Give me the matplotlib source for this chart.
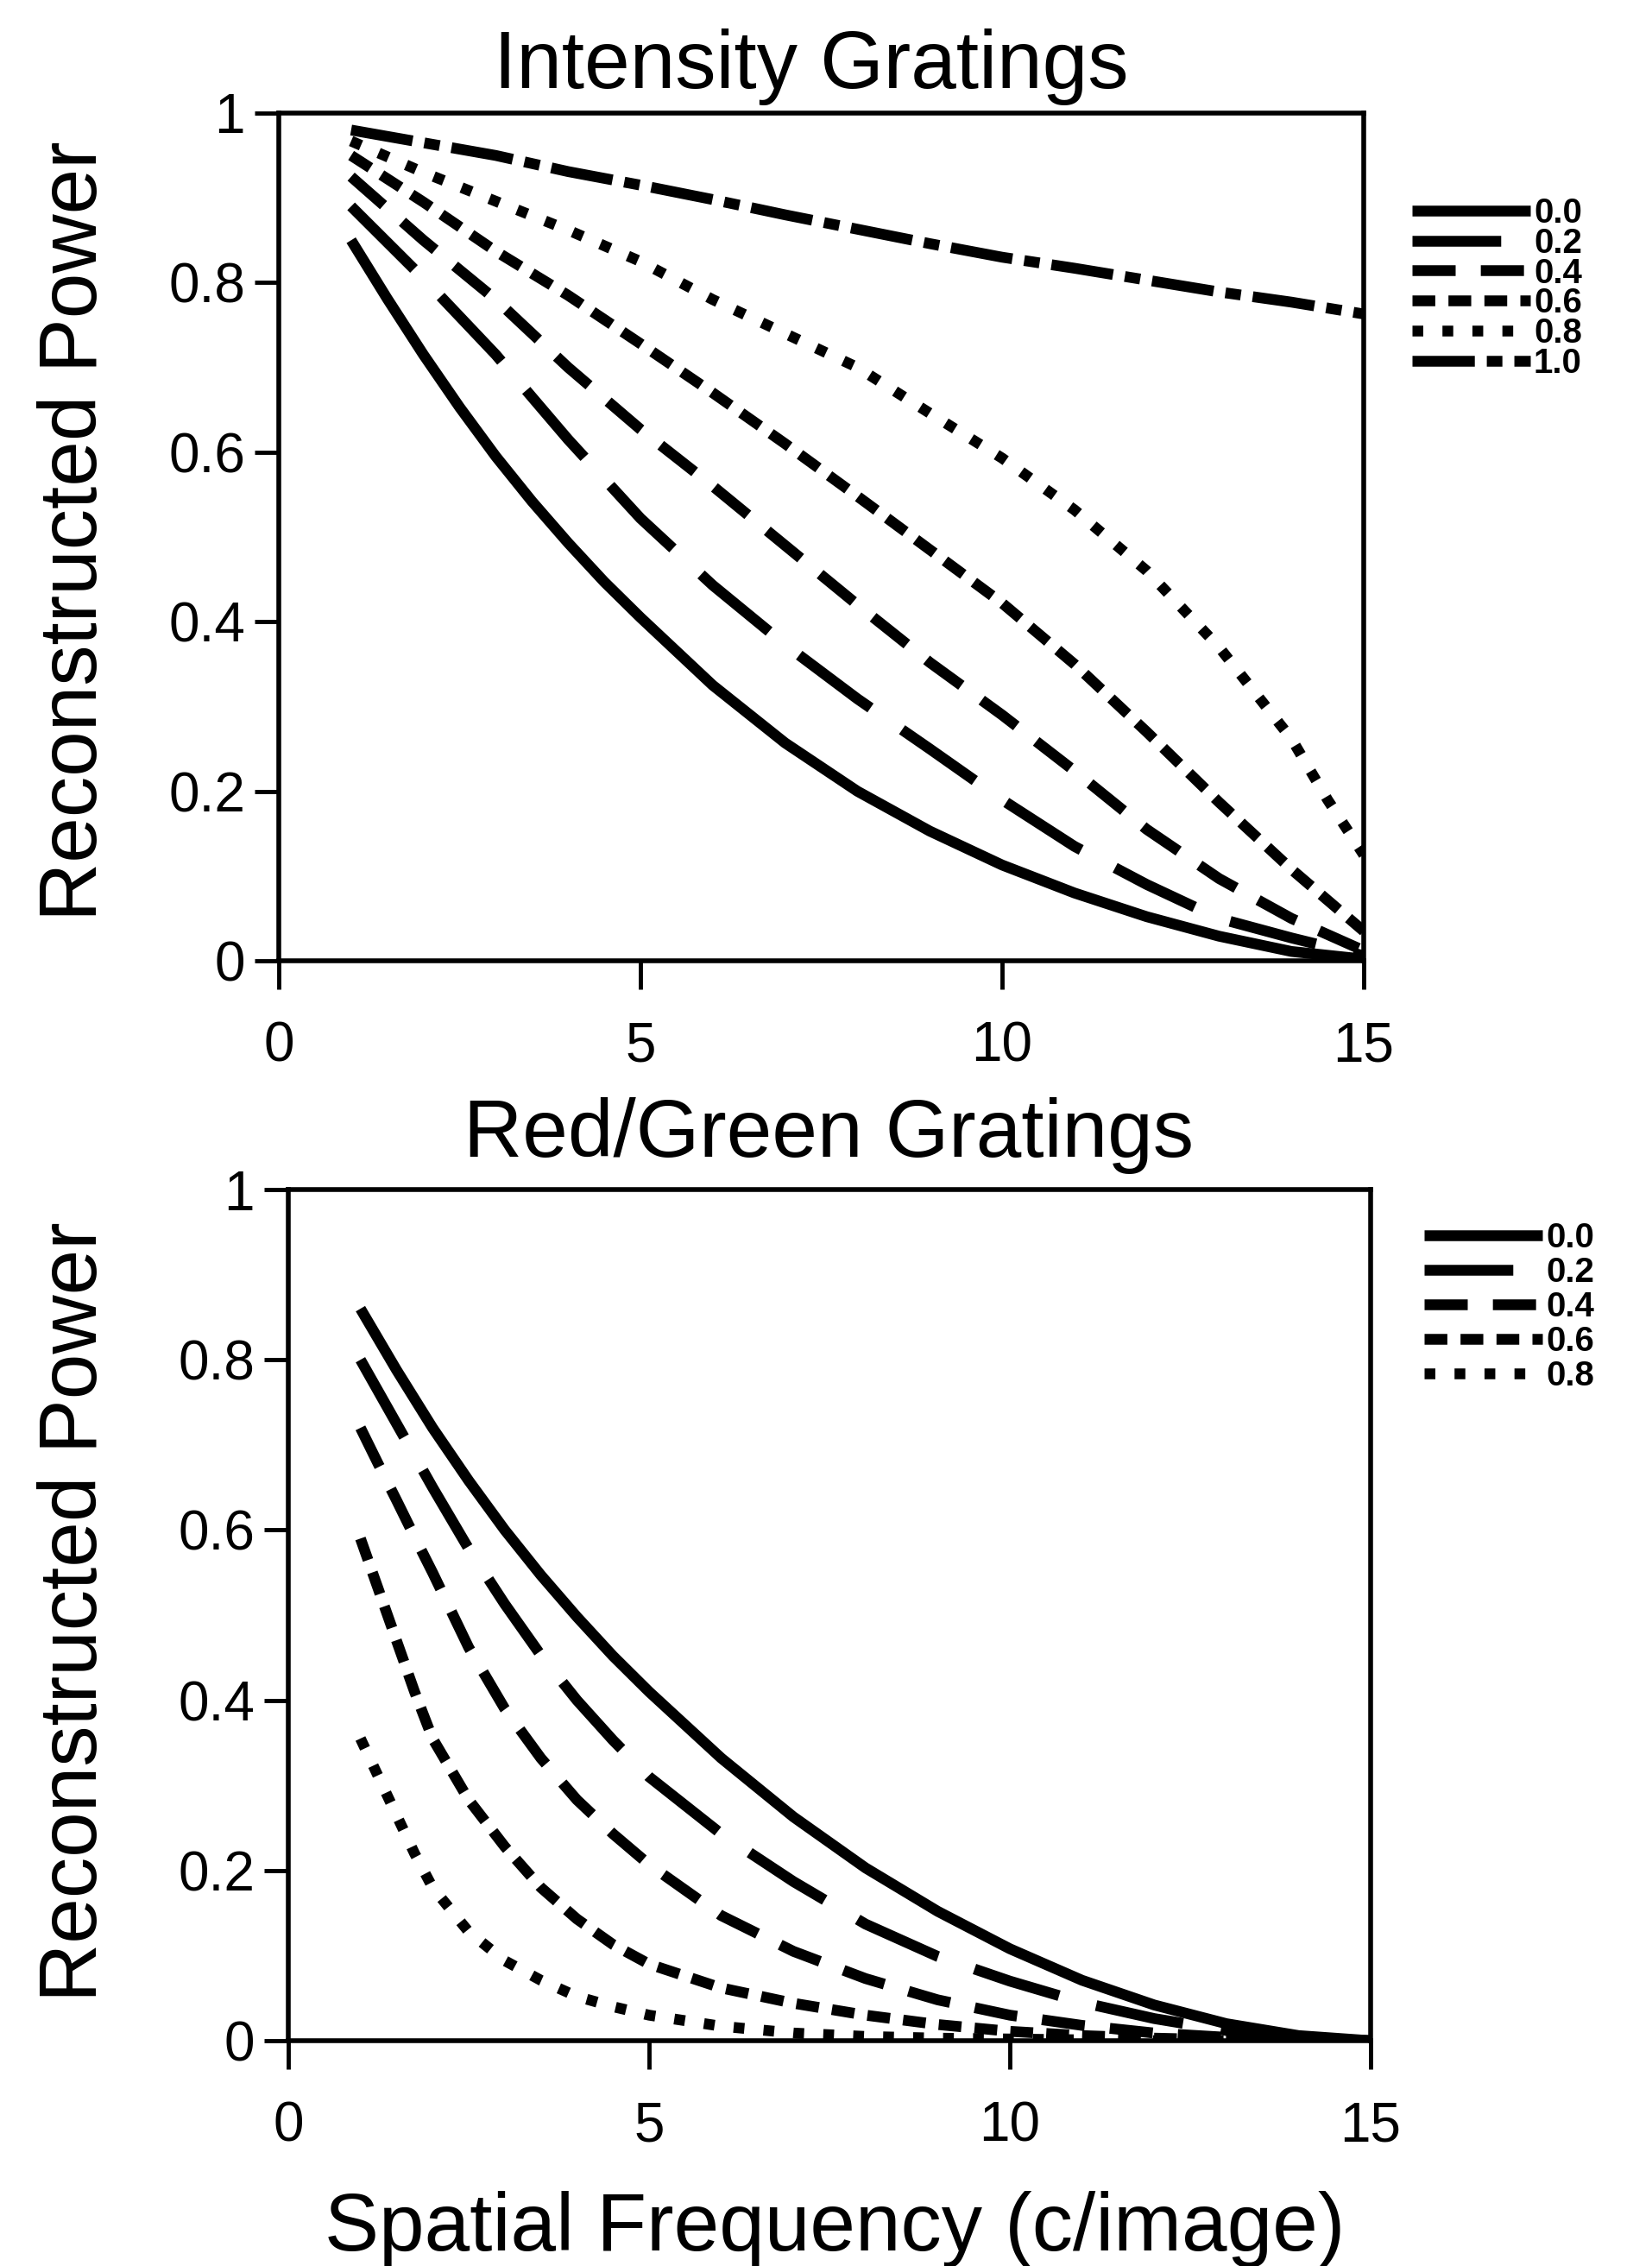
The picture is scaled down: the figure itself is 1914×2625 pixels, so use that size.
import matplotlib
matplotlib.use("Agg")
import matplotlib.pyplot as plt

plt.rcParams['font.family'] = ['Liberation Sans', 'DejaVu Sans']
plt.rcParams['lines.scale_dashes'] = False

# ---------------- data ----------------
levels_top = ["0.0", "0.2", "0.4", "0.6", "0.8", "1.0"]
levels_bottom = ["0.0", "0.2", "0.4", "0.6", "0.8"]

x_int = [1, 2, 3, 4, 5, 6, 7, 8, 9, 10, 11, 12, 13, 14, 15]
x_half = [1, 1.5, 2, 2.5, 3, 3.5, 4, 4.5, 5, 6, 7, 8, 9, 10, 11, 12, 13, 14, 15]

top_00 = [0.85, 0.781, 0.715, 0.653, 0.595, 0.542, 0.493, 0.447, 0.405, 0.325, 0.257, 0.2, 0.153, 0.113, 0.08, 0.052, 0.029, 0.011, 0.002]
top_02 = [0.89, 0.805, 0.715, 0.615, 0.522, 0.443, 0.373, 0.309, 0.25, 0.19, 0.135, 0.09, 0.05, 0.027, 0.006]
top_04 = [0.925, 0.85, 0.78, 0.70, 0.627, 0.56, 0.49, 0.42, 0.352, 0.29, 0.224, 0.155, 0.097, 0.05, 0.012]
top_06 = [0.95, 0.895, 0.837, 0.785, 0.728, 0.67, 0.61, 0.548, 0.485, 0.422, 0.35, 0.27, 0.187, 0.108, 0.035]
x_top_08 = [1, 2, 3, 4, 5, 6, 7, 8, 9, 10, 11, 12, 13, 14, 14.5, 15]
top_08 = [0.967, 0.93, 0.896, 0.862, 0.825, 0.78, 0.74, 0.70, 0.646, 0.593, 0.532, 0.46, 0.37, 0.262, 0.19, 0.125]
top_10 = [0.98, 0.965, 0.95, 0.931, 0.915, 0.898, 0.88, 0.863, 0.846, 0.83, 0.817, 0.803, 0.789, 0.777, 0.763]

bot_00 = [0.86, 0.788, 0.72, 0.658, 0.60, 0.547, 0.498, 0.452, 0.41, 0.332, 0.263, 0.203, 0.152, 0.108, 0.071, 0.042, 0.02, 0.006, 0.0]
x_bot_02 = [1, 1.5, 2, 2.5, 3, 3.5, 4, 4.5, 5, 6, 7, 8, 9, 10, 11, 12, 13, 14, 15]
bot_02 = [0.80, 0.725, 0.65, 0.578, 0.513, 0.453, 0.40, 0.353, 0.31, 0.243, 0.187, 0.137, 0.099, 0.07, 0.045, 0.026, 0.012, 0.003, 0.0]
x_bot_fine = [1, 1.25, 1.5, 1.75, 2, 2.5, 3, 3.5, 4, 4.5, 5, 6, 7, 8, 9, 10, 11, 12, 13, 14, 15]
bot_04 = [0.72, 0.677, 0.635, 0.592, 0.55, 0.462, 0.39, 0.332, 0.283, 0.243, 0.207, 0.147, 0.105, 0.073, 0.048, 0.03, 0.018, 0.009, 0.004, 0.001, 0.0]
bot_06 = [0.59, 0.53, 0.47, 0.41, 0.355, 0.283, 0.228, 0.18, 0.143, 0.113, 0.09, 0.062, 0.044, 0.03, 0.019, 0.011, 0.006, 0.003, 0.001, 0.0, 0.0]
bot_08 = [0.355, 0.31, 0.265, 0.22, 0.18, 0.128, 0.094, 0.071, 0.052, 0.04, 0.03, 0.017, 0.009, 0.005, 0.003, 0.002, 0.001, 0.0, 0.0, 0.0, 0.0]

x_ticks = [0, 5, 10, 15]
x_ticklabels = ["0", "5", "10", "15"]
y_ticks = [0, 0.2, 0.4, 0.6, 0.8, 1.0]
y_ticklabels = ["0", "0.2", "0.4", "0.6", "0.8", "1"]

title_top = "Intensity Gratings"
title_bottom = "Red/Green Gratings"
y_label = "Reconstructed Power"
x_label = "Spatial Frequency (c/image)"

# ---------------- styles ----------------
styles = {
    "0.0": '-',
    "0.2": (0, (74, 32)),
    "0.4": (0, (36, 21)),
    "0.6": (0, (19, 11)),
    "0.8": (0, (9, 16)),
    "1.0": (0, (52, 10, 13, 10)),
}
LW = 9

W, H = 1914, 2625
fig = plt.figure(figsize=(W / 100, H / 100), dpi=100)

def fx(px):
    return px / W

def fy(py):
    return 1 - py / H

ax1 = fig.add_axes([fx(323), fy(1113), fx(1580) - fx(323), fy(131) - fy(1113)])
ax2 = fig.add_axes([fx(334), fy(2364), fx(1588) - fx(334), fy(1378) - fy(2364)])

top_series = [(x_half, top_00), (x_int, top_02), (x_int, top_04), (x_int, top_06), (x_top_08, top_08), (x_int, top_10)]
bot_series = [(x_half, bot_00), (x_bot_02, bot_02), (x_bot_fine, bot_04), (x_bot_fine, bot_06), (x_bot_fine, bot_08)]

def draw(ax, series, labels):
    handles = []
    for (xs, ys), lab in zip(series, labels):
        ln, = ax.plot(xs, ys, color='black', lw=LW, linestyle=styles[lab],
                      dash_capstyle='butt', solid_capstyle='butt',
                      solid_joinstyle='round', dash_joinstyle='round', label=lab)
        handles.append(ln)
    ax.set_xlim(0, 15)
    ax.set_ylim(0, 1)
    ax.set_xticks(x_ticks)
    ax.set_xticklabels(x_ticklabels)
    ax.set_yticks(y_ticks)
    ax.set_yticklabels(y_ticklabels)
    ax.tick_params(axis='x', direction='out', length=24, width=3.5, pad=26, labelsize=46)
    ax.tick_params(axis='y', direction='out', length=20, width=3.5, pad=8, labelsize=46)
    for sp in ax.spines.values():
        sp.set_linewidth(4)
    return handles

h1 = draw(ax1, top_series, levels_top)
h2 = draw(ax2, bot_series, levels_bottom)

leg_font = {'size': 29, 'weight': 'bold'}
leg1 = ax1.legend(h1, levels_top, loc='upper left', bbox_to_anchor=(fx(1636), fy(228)),
                  bbox_transform=fig.transFigure, frameon=False, prop=leg_font,
                  handlelength=3.4, handletextpad=0.1, labelspacing=-0.08, borderpad=0,
                  borderaxespad=0)
leg2 = ax2.legend(h2, levels_bottom, loc='upper left', bbox_to_anchor=(fx(1650), fy(1415)),
                  bbox_transform=fig.transFigure, frameon=False, prop=leg_font,
                  handlelength=3.4, handletextpad=0.1, labelspacing=0.05, borderpad=0,
                  borderaxespad=0)

fig.text(fx(940), fy(102), title_top, ha='center', va='baseline', fontsize=68)
fig.text(fx(960), fy(1340), title_bottom, ha='center', va='baseline', fontsize=68)
fig.text(fx(967), fy(2607), x_label, ha='center', va='baseline', fontsize=68)
fig.text(fx(88), fy(615), y_label, ha='center', va='center', rotation=90, fontsize=68)
fig.text(fx(88), fy(1867), y_label, ha='center', va='center', rotation=90, fontsize=68)

fig.savefig("out.png", dpi=100, facecolor='white')
